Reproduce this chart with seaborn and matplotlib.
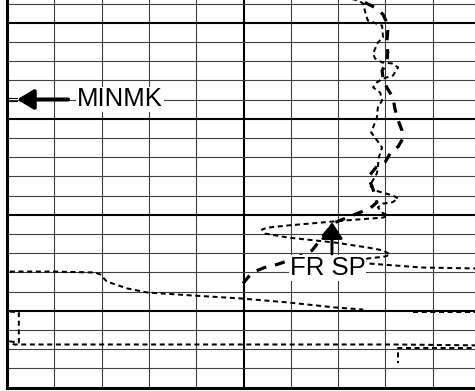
import numpy as np
import pandas as pd
import matplotlib
matplotlib.use("Agg")
import matplotlib.pyplot as plt
import seaborn as sns

sns.set_style("white")
plt.rcParams['font.family'] = ['Liberation Sans', 'DejaVu Sans']

# ---- data (grid units: x columns, y rows from bottom) ----
heavy_x = [4.99, 5.18, 5.45, 5.71, 6.09, 6.45, 6.58, 6.74, 6.93, 7.19, 7.40, 7.67, 7.82, 7.78,
           7.72, 7.63, 7.80, 7.99, 8.10, 8.27, 8.37, 8.35, 8.27, 8.20, 8.16, 8.03, 7.95, 7.93,
           8.03, 8.05, 8.03, 8.05, 8.01, 7.95, 7.78, 7.57, 7.36]
heavy_y = [5.42, 5.99, 6.25, 6.41, 6.72, 7.14, 7.55, 8.07, 8.59, 8.85, 9.06, 9.32, 9.64, 10.00,
           10.47, 10.94, 11.46, 11.72, 12.19, 12.55, 12.97, 13.39, 13.91, 14.53, 15.10, 15.63, 16.09, 16.51,
           16.93, 17.45, 17.97, 18.59, 19.11, 19.43, 19.79, 20.05, 20.42]

wig_x = [7.25, 7.42, 7.53, 7.59, 7.63, 7.93, 7.95, 7.84, 7.74, 7.78, 7.93, 8.14, 8.27, 8.16,
         7.95, 7.82, 7.74, 7.89, 7.93, 7.84, 7.82, 7.74, 7.70, 7.78, 7.93, 7.86, 7.84, 7.82,
         7.67, 7.78, 7.93, 8.16, 8.27, 8.14, 7.95, 7.84, 7.93, 8.05, 7.95, 7.15, 5.94, 5.52,
         5.39, 5.45, 5.94, 6.93, 7.63, 7.95, 8.10, 7.99, 7.63, 7.51, 7.63, 8.77, 9.89, 10.11]
wig_y = [20.26, 20.16, 20.00, 19.38, 19.11, 18.85, 18.23, 17.97, 17.40, 17.14, 16.93, 16.88, 16.67, 16.25,
         16.09, 15.89, 15.63, 15.36, 14.95, 14.58, 14.06, 13.54, 13.28, 13.02, 12.50, 11.98, 11.46, 11.15,
         10.52, 10.26, 10.16, 10.00, 9.84, 9.64, 9.58, 9.38, 9.11, 8.96, 8.85, 8.70, 8.44, 8.33,
         8.23, 8.02, 7.81, 7.55, 7.29, 7.14, 6.93, 6.82, 6.72, 6.61, 6.46, 6.25, 6.20, 6.20]

mid_x = [0.06, 0.97, 1.86, 1.97, 2.11, 2.54, 2.96, 3.93, 4.93, 5.94, 6.93, 7.53, 8.58, 9.89, 10.11]
mid_y = [6.04, 6.04, 5.99, 5.89, 5.52, 5.16, 4.95, 4.79, 4.64, 4.43, 4.17, 4.06, 3.91, 3.91, 3.91]
mid_seg = [0] * 12 + [1] * 3

low_x = [0.06, 0.25, 0.25, 0.06, 0.15, 4.93, 8.20, 10.11]
low_y = [3.96, 3.91, 2.34, 2.40, 2.24, 2.24, 2.24, 2.19]

low2_x = [8.27, 8.27, 10.11]
low2_y = [1.30, 2.08, 2.08]

labels = ["MINMK", "FR SP"]

# ---- figure ----
fig = plt.figure(figsize=(4.75, 3.91), dpi=100)
ax = fig.add_axes([7 / 475, 3.5 / 391, 473 / 475, 21 * 19.2 / 391])
ax.set_xlim(0, 10)
ax.set_ylim(0, 21)

ax.set_xticks([0, 5, 10])
ax.set_xticks(np.arange(0, 11), minor=True)
ax.set_yticks([4, 9, 14, 19])
ax.set_yticks(np.arange(0, 22), minor=True)
ax.grid(which='minor', color='#404040', lw=0.8)
ax.grid(which='major', color='black', lw=1.5)
ax.set_axisbelow(True)
ax.tick_params(which='both', length=0, labelleft=False, labelbottom=False)
for s in ['top', 'right']:
    ax.spines[s].set_visible(False)
for s in ['left', 'bottom']:
    ax.spines[s].set_linewidth(2.2)
    ax.spines[s].set_color('black')

light_ls = (0, (2.5, 1.8))
lw_light = 1.45

sns.lineplot(x=heavy_x, y=heavy_y, sort=False, estimator=None, ax=ax, color='black',
             lw=2.3, linestyle=(0, (3.2, 2.8)), zorder=4)
sns.lineplot(x=wig_x, y=wig_y, sort=False, estimator=None, ax=ax, color='black',
             lw=lw_light, linestyle=light_ls, zorder=3)
df_mid = pd.DataFrame({'x': mid_x, 'y': mid_y, 'seg': mid_seg})
sns.lineplot(data=df_mid, x='x', y='y', units='seg', sort=False, estimator=None, ax=ax,
             color='black', lw=lw_light, linestyle=light_ls, zorder=3)
sns.lineplot(x=low_x, y=low_y, sort=False, estimator=None, ax=ax, color='black',
             lw=lw_light, linestyle=light_ls, zorder=3)
sns.lineplot(x=low2_x, y=low2_y, sort=False, estimator=None, ax=ax, color='black',
             lw=lw_light, linestyle=(1.5, (2.5, 1.8)), zorder=3)

# ---- annotations ----
bbox = dict(facecolor='white', edgecolor='none', pad=0.6)
ax.text(1.48, 15.0, labels[0], fontsize=18.5, ha='left', va='center', color='black',
        bbox=bbox, zorder=6)
ax.annotate('', xy=(0.21, 15.0), xytext=(1.29, 15.0),
            arrowprops=dict(arrowstyle='-|>,head_length=0.5,head_width=0.3', mutation_scale=20,
                            lw=2.9, color='black', shrinkA=0, shrinkB=0), zorder=7)
ax.plot([0.02, 0.22], [15.08, 15.08], color='black', lw=0.8, zorder=7)
ax.plot([0.02, 0.22], [14.92, 14.92], color='black', lw=0.8, zorder=7)

ax.text(5.98, 6.22, labels[1], fontsize=18.5, ha='left', va='center', color='black',
        bbox=bbox, zorder=6)
ax.annotate('', xy=(6.87, 8.62), xytext=(6.87, 6.95),
            arrowprops=dict(arrowstyle='-|>,head_length=0.5,head_width=0.33', mutation_scale=20,
                            lw=2.1, color='black', shrinkA=0, shrinkB=0), zorder=7)

fig.savefig('out.png', dpi=100)
